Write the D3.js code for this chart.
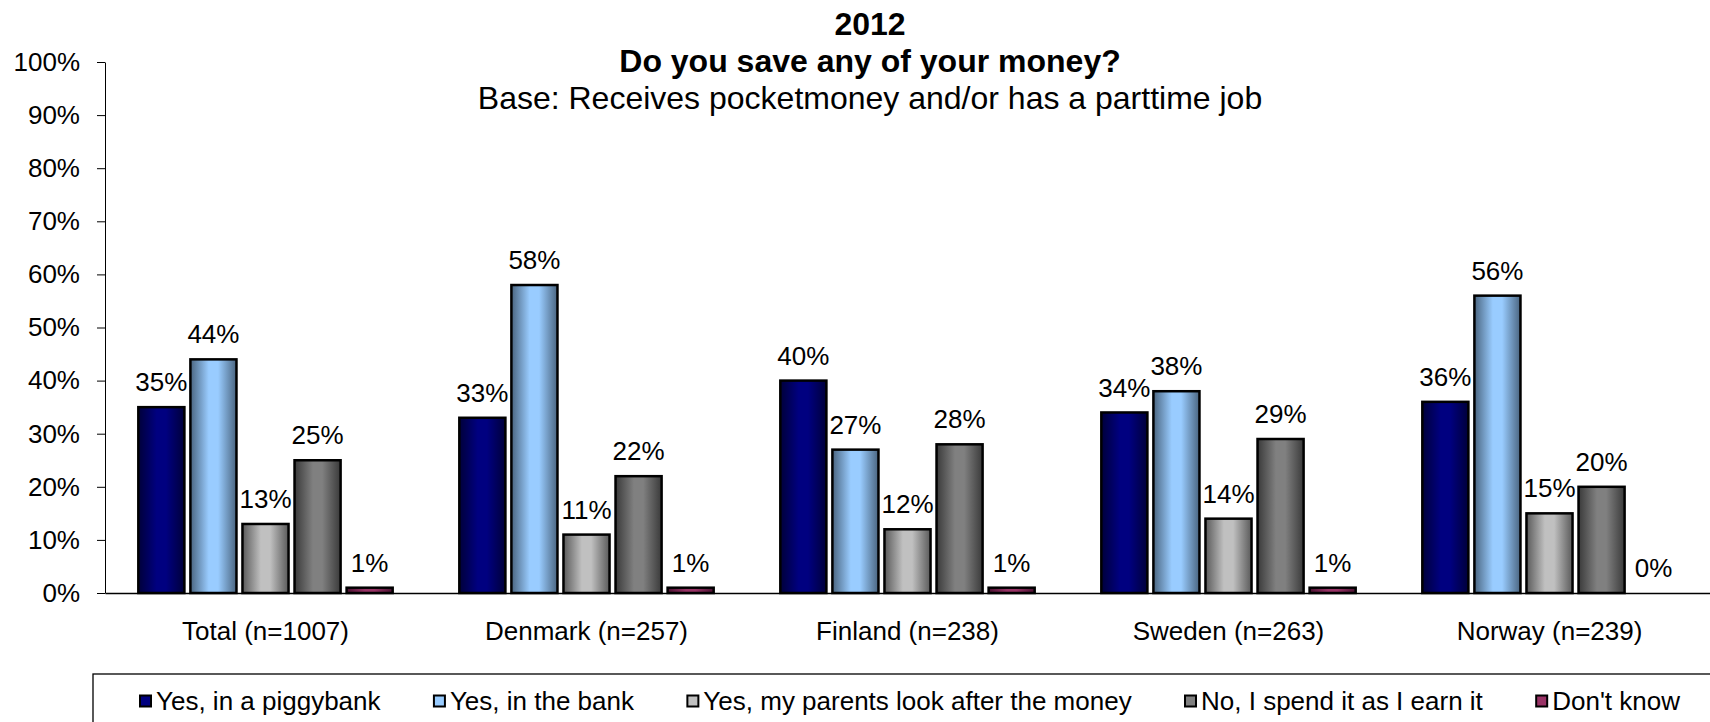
<!DOCTYPE html>
<html>
<head>
<meta charset="utf-8">
<script src="https://cdn.jsdelivr.net/npm/d3@7"></script>
<style>
  body { margin: 0; background: #fff; }
  svg { display: block; font-family: Arial, "Liberation Sans", sans-serif; }
</style>
</head>
<body>
<svg id="chart" width="1710" height="722"></svg>
<script>
var categories = ["Total (n=1007)", "Denmark (n=257)", "Finland (n=238)", "Sweden (n=263)", "Norway (n=239)"];
var seriesNames = ["Yes, in a piggybank", "Yes, in the bank", "Yes, my parents look after the money", "No, I spend it as I earn it", "Don't know"];
var piggybank = [35, 33, 40, 34, 36];
var inBank = [44, 58, 27, 38, 56];
var parents = [13, 11, 12, 14, 15];
var spendIt = [25, 22, 28, 29, 20];
var dontKnow = [1, 1, 1, 1, 0];
var yTicks = [0, 10, 20, 30, 40, 50, 60, 70, 80, 90, 100];
var titleLines = ["2012", "Do you save any of your money?", "Base: Receives pocketmoney and/or has a parttime job"];

var seriesValues = [piggybank, inBank, parents, spendIt, dontKnow];
// centre colour, edge colour for the shaded bars
var fills = [["#000080", "#00003a"], ["#99ccff", "#4a6580"], ["#c0c0c0", "#5a5a5a"], ["#808080", "#3a3a3a"], ["#993366", "#4a1030"]];

var svg = d3.select("#chart");
var W = 1710, H = 722;
var margin = {left: 105, right: 0, top: 62, bottom: 129};

var x0 = d3.scaleBand().domain(categories).range([margin.left, W - margin.right]);
var x1 = d3.scaleBand().domain(d3.range(5)).range([0, x0.bandwidth()]).paddingInner(0.115).paddingOuter(0.64);
var y = d3.scaleLinear().domain([0, 100]).range([H - margin.bottom, margin.top]);

var defs = svg.append("defs");
fills.forEach(function (f, i) {
  var g = defs.append("linearGradient").attr("id", "grad" + i).attr("x1", "0%").attr("x2", "100%").attr("y1", "0%").attr("y2", "0%");
  g.append("stop").attr("offset", "0%").attr("stop-color", f[1]);
  g.append("stop").attr("offset", "40%").attr("stop-color", f[0]);
  g.append("stop").attr("offset", "60%").attr("stop-color", f[0]);
  g.append("stop").attr("offset", "100%").attr("stop-color", f[1]);
});

// titles
svg.append("g").selectAll("text").data(titleLines).enter().append("text")
  .attr("x", 870)
  .attr("y", function (d, i) { return 24 + i * 37; })
  .attr("dy", "0.35em")
  .attr("text-anchor", "middle")
  .attr("font-size", 32)
  .attr("font-weight", function (d, i) { return i < 2 ? "bold" : "normal"; })
  .text(function (d) { return d; });

// y axis
var yAxis = svg.append("g").attr("transform", "translate(" + margin.left + ",0)")
  .call(d3.axisLeft(y).tickValues(yTicks).tickSize(8).tickSizeOuter(0).tickFormat(function (d) { return d + "%"; }));
yAxis.select(".domain").attr("stroke", "#000");
yAxis.selectAll(".tick line").attr("stroke", "#000");
yAxis.selectAll(".tick text").attr("x", -25).attr("font-size", 26).attr("font-family", "Arial, 'Liberation Sans', sans-serif").attr("fill", "#000");

// bars
var groups = svg.append("g").selectAll("g").data(categories).enter().append("g")
  .attr("transform", function (d) { return "translate(" + x0(d) + ",0)"; });

groups.selectAll("rect").data(function (d, ci) {
  return seriesValues.map(function (s, si) { return {s: si, v: s[ci]}; });
}).enter().append("rect")
  .attr("x", function (d) { return x1(d.s); })
  .attr("y", function (d) { return y(d.v); })
  .attr("width", x1.bandwidth())
  .attr("height", function (d) { return y(0) - y(d.v); })
  .attr("fill", function (d) { return "url(#grad" + d.s + ")"; })
  .attr("stroke", "#000")
  .attr("stroke-width", 2.5)
  .attr("display", function (d) { return d.v > 0 ? null : "none"; });

groups.selectAll("text.lbl").data(function (d, ci) {
  return seriesValues.map(function (s, si) { return {s: si, v: s[ci]}; });
}).enter().append("text")
  .attr("class", "lbl")
  .attr("x", function (d) { return x1(d.s) + x1.bandwidth() / 2; })
  .attr("y", function (d) { return y(d.v) - 25; })
  .attr("dy", "0.35em")
  .attr("text-anchor", "middle")
  .attr("font-size", 26)
  .text(function (d) { return d.v + "%"; });

// x axis
var xAxis = svg.append("g").attr("transform", "translate(0," + y(0) + ")")
  .call(d3.axisBottom(x0).tickSize(0).tickSizeOuter(0));
xAxis.select(".domain").attr("stroke", "#000").attr("stroke-width", 1.3);
xAxis.selectAll(".tick text").attr("y", 38).attr("dy", "0.35em").attr("font-size", 26)
  .attr("font-family", "Arial, 'Liberation Sans', sans-serif").attr("fill", "#000");

// legend
var legend = svg.append("g");
legend.append("rect").attr("x", 93).attr("y", 674).attr("width", 1640).attr("height", 70)
  .attr("fill", "none").attr("stroke", "#000").attr("stroke-width", 1.3);

var items = legend.selectAll("g").data(seriesNames).enter().append("g");
items.append("rect").attr("width", 11).attr("height", 11).attr("y", 695.5)
  .attr("fill", function (d, i) { return fills[i][0]; }).attr("stroke", "#000").attr("stroke-width", 2);
items.append("text").attr("x", 16).attr("y", 701).attr("dy", "0.35em").attr("font-size", 26)
  .text(function (d) { return d; });

var widths = [];
items.each(function () { widths.push(16 + d3.select(this).select("text").node().getComputedTextLength()); });
var startX = 140, endX = 1680;
var gap = (endX - startX - d3.sum(widths)) / (widths.length - 1);
var cx = startX;
items.attr("transform", function (d, i) { var t = "translate(" + cx + ",0)"; cx += widths[i] + gap; return t; });
</script>
</body>
</html>
